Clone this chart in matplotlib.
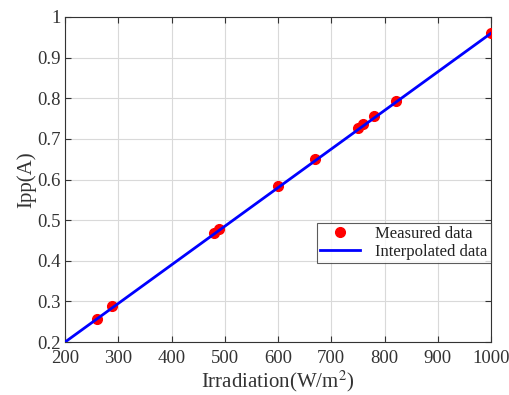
import matplotlib.pyplot as plt

irr = [260, 288, 480, 489, 600, 670, 751, 760, 780, 821, 1000]
ipp = [0.258, 0.288, 0.469, 0.478, 0.584, 0.650, 0.727, 0.736, 0.756, 0.794, 0.961]
fit_x = [200, 1000]
fit_y = [0.2, 0.96]

plt.rcParams['font.family'] = ['Liberation Serif', 'DejaVu Serif']
plt.rcParams['mathtext.fontset'] = 'stix'

fig = plt.figure(figsize=(5.1, 3.95), dpi=100)
ax = fig.add_axes([0.1275, 0.134, 0.8353, 0.823])

ax.plot(irr, ipp, 'o', color='red', markersize=7, label='Measured data', zorder=3)
ax.plot(fit_x, fit_y, '-', color='blue', linewidth=2, label='Interpolated data', zorder=4)

ax.set_xlim(200, 1000)
ax.set_ylim(0.2, 1)
ax.set_xticks(range(200, 1001, 100))
ax.set_yticks([0.2, 0.3, 0.4, 0.5, 0.6, 0.7, 0.8, 0.9, 1])
ax.set_yticklabels(['0.2', '0.3', '0.4', '0.5', '0.6', '0.7', '0.8', '0.9', '1'])
ax.grid(True, color='#d9d9d9', linewidth=0.8)
ax.set_axisbelow(True)
ax.tick_params(direction='in', top=True, right=True, labelsize=13.5, colors='#333333', length=4)
ax.tick_params(axis='x', pad=6)
ax.tick_params(axis='y', pad=3)
for s in ax.spines.values():
    s.set_color('#333333')
    s.set_linewidth(0.8)

ax.set_xlabel('Irradiation(W/m$^2$)', fontsize=15, color='#333333', labelpad=1)
ax.set_ylabel('Ipp(A)', fontsize=15, color='#333333', labelpad=1)

leg = ax.legend(loc='lower right', bbox_to_anchor=(1.0, 0.243), fontsize=12,
                frameon=True, fancybox=False, edgecolor='#333333',
                borderpad=0.2, labelspacing=0.1, handlelength=2.4, handletextpad=0.9,
                borderaxespad=0)
leg.get_frame().set_linewidth(0.8)
for t in leg.get_texts():
    t.set_color('#222222')

fig.savefig('out.png', dpi=100)
